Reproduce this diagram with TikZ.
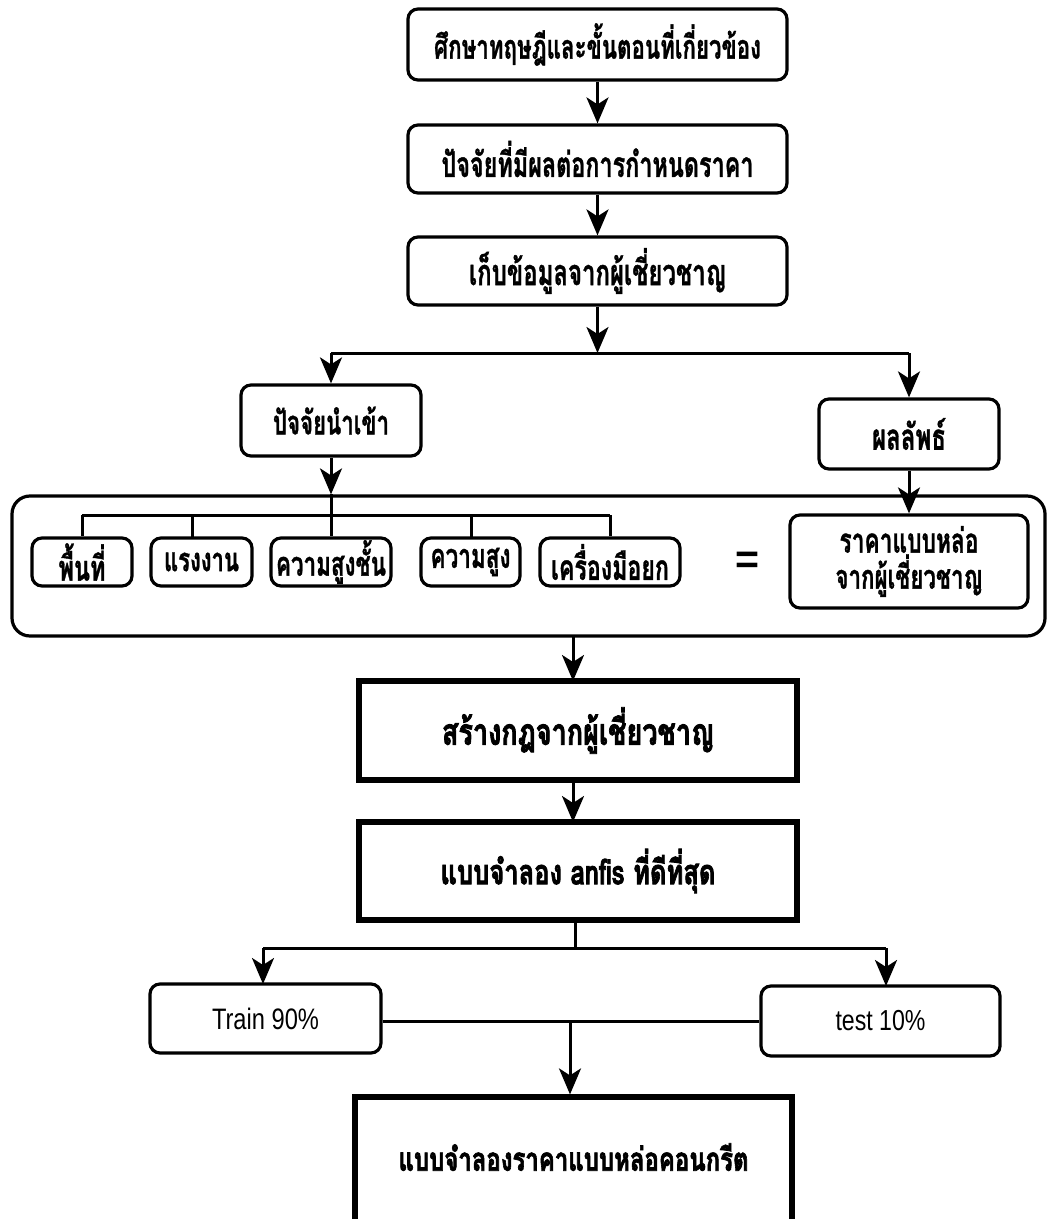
\documentclass[tikz,border=0pt]{standalone}
\usepackage{graphicx}
\usepackage{fontspec}
\setmainfont[Script=Thai, BoldFeatures={FakeBold=1.2}]{Loma}
\newfontfamily\heavyfont[Script=Thai, BoldFeatures={FakeBold=2.5}]{Loma}
\newfontfamily\latinfont{Liberation Sans}
\usetikzlibrary{arrows.meta,calc}
\newcommand\fw[2]{\resizebox{#1pt}{!}{\scalebox{1}[1.5]{#2}}}
\newcommand\fh[2]{\resizebox{#1pt}{!}{\scalebox{1}[1.35]{\heavyfont\bfseries #2}}}
\newcommand\fl[2]{\resizebox{#1pt}{!}{\scalebox{1}[1.25]{\latinfont\mdseries #2}}}
\begin{document}
\begin{tikzpicture}[x=0.5pt,y=-0.5pt,
  rbox/.style={draw, line width=1.6pt, rounded corners=5pt, inner sep=0pt, font=\bfseries},
  sbox/.style={draw, line width=2.6pt, inner sep=0pt},
  arr/.style={line width=1.5pt, -{Stealth[length=13pt,width=11pt,inset=3.5pt]}},
  ln/.style={line width=1.5pt}]
\useasboundingbox (0,0) rectangle (1048,1219);

% top chain
\node[rbox, minimum width=189.5pt, minimum height=35.5pt] (b1) at (597.5,44.5) {\fw{163.5}{ศึกษาทฤษฎีและขั้นตอนที่เกี่ยวข้อง}};
\node[rbox, minimum width=189.5pt, minimum height=34pt] (b2) at (597.5,159) {\fw{156}{ปัจจัยที่มีผลต่อการกำหนดราคา}};
\node[rbox, minimum width=189.5pt, minimum height=34pt] (b3) at (597.5,271) {\fw{128.5}{เก็บข้อมูลจากผู้เชี่ยวชาญ}};
\draw[arr] (b1.south) -- (b2.north);
\draw[arr] (b2.south) -- (b3.north);

\coordinate (split) at (597.5,353);
\draw[arr] (b3.south) -- (split);

% inputs / outputs
\node[rbox, minimum width=90pt, minimum height=35.5pt] (inp) at (331,420.5) {\fw{58}{ปัจจัยนำเข้า}};
\node[rbox, minimum width=90pt, minimum height=35pt] (out) at (909,434) {\fw{37}{ผลลัพธ์}};
\draw[ln] (inp.north |- split) -- (out.north |- split);
\draw[arr] (inp.north |- split) -- (inp.north);
\draw[arr] (out.north |- split) -- (out.north);

% container
\node[draw, line width=1.6pt, rounded corners=9pt, minimum width=516.5pt, minimum height=70pt, inner sep=0pt] (cont) at (528.5,566) {};
\draw[arr] (inp.south) -- (inp.south |- cont.north);

\node[rbox, minimum width=50pt, minimum height=24pt] (s1) at (82,562) {\fw{23.5}{พื้นที่}};
\node[rbox, minimum width=50.5pt, minimum height=24pt] (s2) at (201.5,562) {\fw{37.5}{แรงงาน}};
\node[rbox, minimum width=60pt, minimum height=24pt] (s3) at (331,562) {\fw{55}{ความสูงชั้น}};
\node[rbox, minimum width=49.5pt, minimum height=24pt] (s4) at (470.5,562) {\fw{40}{ความสูง}};
\node[rbox, minimum width=70pt, minimum height=24pt] (s5) at (610,562) {\fw{59}{เครื่องมือยก}};

\coordinate (br) at (331,515);
\draw[ln] (inp.south |- cont.north) -- (br);
\draw[ln] (82,515) -- (610,515);
\draw[ln] (82,515) -- (s1.north);
\draw[ln] (192,515) -- (192,538);
\draw[ln] (br) -- (s3.north);
\draw[ln] (471,515) -- (471,538);
\draw[ln] (610,515) -- (s5.north);

\node (eq) at (747,563) {\resizebox{12pt}{!}{\latinfont\bfseries =}};

\node[rbox, minimum width=119pt, minimum height=46.5pt, align=center, font=\bfseries\fontsize{10pt}{18pt}\selectfont] (res) at (909,561.5) {\fw{69.5}{ราคาแบบหล่อ}\\\fw{73.5}{จากผู้เชี่ยวชาญ}};
\draw[arr] (out.south) -- (res.north);

% lower chain
\node[sbox, minimum width=219pt, minimum height=49.5pt] (rule) at (578,730.5) {\fh{136}{สร้างกฎจากผู้เชี่ยวชาญ}};
\node[sbox, minimum width=219pt, minimum height=49pt] (anf) at (578,871) {\fh{137.5}{แบบจำลอง anfis ที่ดีที่สุด}};
\draw[arr] (573,636) -- (573,681);
\draw[arr] (573,780) -- (573,822);

\coordinate (sp2) at (575,948);
\node[rbox, font=\mdseries, minimum width=115.5pt, minimum height=34.5pt] (train) at (265.5,1018.5) {\fl{53.5}{Train 90\%}};
\node[rbox, font=\mdseries, minimum width=119.5pt, minimum height=35pt] (test) at (880.5,1021) {\fl{45}{test 10\%}};
\draw[ln] (575,920) -- (sp2);
\draw[ln] (263,948) -- (886,948);
\draw[arr] (263,948) -- (263,984);
\draw[arr] (886,948) -- (886,986);

\node[sbox, minimum width=218.5pt, minimum height=64pt] (fin) at (573.5,1161) {\raisebox{4pt}{\fh{175}{แบบจำลองราคาแบบหล่อคอนกรีต}}};
\coordinate (jn) at (570,1021);
\draw[ln] (train.east |- jn) -- (test.west |- jn);
\draw[arr] (jn) -- (fin.north -| jn);
\end{tikzpicture}
\end{document}
